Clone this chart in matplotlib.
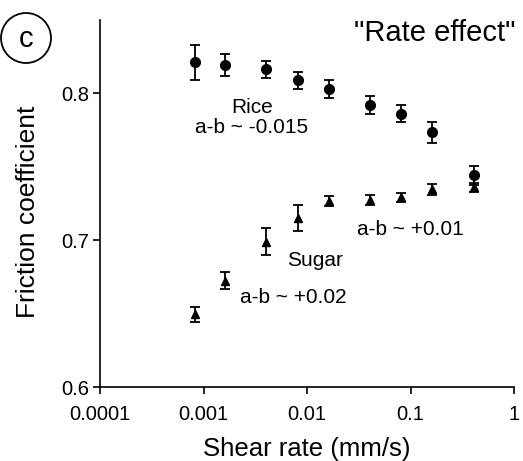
import matplotlib
matplotlib.use("Agg")
import matplotlib.pyplot as plt
from matplotlib.patches import Ellipse

plt.rcParams['font.family'] = ['Liberation Sans', 'DejaVu Sans']

shear_rate = [0.00082, 0.0016, 0.004, 0.0082, 0.0163, 0.041, 0.081, 0.16, 0.41]
rice_mu = [0.8211, 0.8193, 0.8163, 0.8088, 0.8029, 0.7923, 0.7862, 0.7734, 0.7441]
rice_err = [0.0117, 0.0075, 0.006, 0.006, 0.006, 0.006, 0.006, 0.007, 0.0065]
sugar_mu = [0.6494, 0.6725, 0.6990, 0.7153, 0.7266, 0.7273, 0.7293, 0.7346, 0.7361]
sugar_err = [0.0048, 0.006, 0.009, 0.0087, 0.0034, 0.0034, 0.003, 0.0037, 0.003]

xticks = [0.0001, 0.001, 0.01, 0.1, 1]
xtick_labels = ["0.0001", "0.001", "0.01", "0.1", "1"]
yticks = [0.6, 0.7, 0.8]
ytick_labels = ["0.6", "0.7", "0.8"]

fig = plt.figure(figsize=(5.23, 4.61), dpi=100)
ax = fig.add_axes([100/523, 74/461, 414/523, 367/461])

ax.errorbar(shear_rate, rice_mu, yerr=rice_err, fmt='o', color='black',
            markersize=7, capsize=3.6, elinewidth=1.3, capthick=1.3)
ax.errorbar(shear_rate, sugar_mu, yerr=sugar_err, fmt='^', color='black',
            markersize=6, capsize=3.6, elinewidth=1.3, capthick=1.3)

ax.set_xscale('log')
ax.set_xlim(0.0001, 1)
ax.set_ylim(0.6, 0.85)
ax.set_xticks(xticks)
ax.set_xticklabels(xtick_labels)
ax.set_yticks(yticks)
ax.set_yticklabels(ytick_labels)
ax.minorticks_off()
ax.tick_params(axis='both', labelsize=14.5, length=5, width=1.2, direction='out')
ax.tick_params(axis='x', pad=8)
ax.tick_params(axis='y', pad=3)
for s in ['top', 'right']:
    ax.spines[s].set_visible(False)
for s in ['left', 'bottom']:
    ax.spines[s].set_linewidth(1.2)

ax.set_xlabel("Shear rate (mm/s)", fontsize=18.5, labelpad=9)
ax.set_ylabel("Friction coefficient", fontsize=19)
ax.yaxis.set_label_coords(-0.145, 0.478)

ax.text(0.00294, 0.7835, "Rice\na-b ~ -0.015", ha='center', va='center', fontsize=15,
        linespacing=1.05)
ax.text(0.01194, 0.6865, "Sugar", ha='center', va='center', fontsize=15)
ax.text(0.00225, 0.6609, "a-b ~ +0.02", ha='left', va='center', fontsize=15)
ax.text(0.0304, 0.7073, "a-b ~ +0.01", ha='left', va='center', fontsize=15)

fig.text(515/523, 1 - 33/461, '"Rate effect"', ha='right', va='center', fontsize=21)

fig.patches.append(Ellipse((26/523, 1 - 38/461), 50/523, 50/461, transform=fig.transFigure,
                           facecolor='none', edgecolor='black', linewidth=1.3))
fig.text(26/523, 1 - 39/461, 'c', ha='center', va='center', fontsize=21)

fig.savefig("out.png", dpi=100)
